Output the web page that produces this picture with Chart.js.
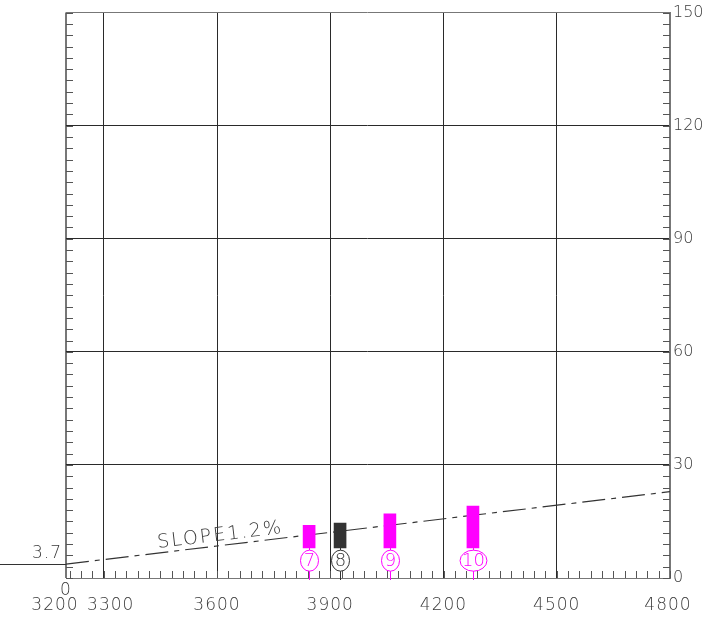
<!DOCTYPE html>
<html><head><meta charset="utf-8">
<script src="https://cdn.jsdelivr.net/npm/chart.js@4.4.0/dist/chart.umd.min.js"></script>
<style>html,body{margin:0;padding:0;background:#fff;overflow:hidden}#wrap{width:714px;height:620px;position:relative}</style>
</head><body><div id="wrap"><canvas id="c"></canvas></div>
<script>
// ---- data ----
const xTickValues = [3200, 3300, 3600, 3900, 4200, 4500, 4800];
const xTickLabels = ['3200', '3300', '3600', '3900', '4200', '4500', '4800'];
const yTickValues = [0, 30, 60, 90, 120, 150];
const pierNames = ['7', '8', '9', '10'];
const pierStations = [3844, 3926, 4058, 4278];
const pierBottoms = [8.0, 8.0, 8.0, 8.0];
const pierTops = [14.0, 14.6, 17.0, 19.1];
const pierColors = ['#ff00ff', '#333333', '#ff00ff', '#ff00ff'];
const markerLevel = 4.6;
const slopeStations = [3200, 4800];
const slopeLevels = [3.7, 22.9];
const slopeLabel = 'SLOPE1.2%';
const startLevelLabel = '3.7';
const startStationLabel = '0';
const xMinorStep = 30, xMinorOrigin = 3300;
const yMinorStep = 3;

const FONT = '"DejaVu Sans", sans-serif';
const TEXT = '#3a3a3a';

const overlay = {
  id: 'overlay',
  beforeDatasetsDraw(chart) {
    const {ctx, chartArea: a, scales: {x, y}} = chart;
    ctx.save();
    ctx.strokeStyle = '#555';
    ctx.lineWidth = 1;
    for (let v = y.min; v <= y.max + 1e-9; v += yMinorStep) {
      const py = Math.round(y.getPixelForValue(v)) + 0.5;
      ctx.beginPath();
      ctx.moveTo(a.left, py); ctx.lineTo(a.left + 7, py);
      ctx.moveTo(a.right - 7, py); ctx.lineTo(a.right, py);
      ctx.stroke();
    }
    let start = xMinorOrigin;
    while (start - xMinorStep >= x.min) start -= xMinorStep;
    for (let v = start; v <= x.max + 1e-9; v += xMinorStep) {
      const px = Math.round(x.getPixelForValue(v)) + 0.5;
      ctx.beginPath();
      ctx.moveTo(px, a.bottom); ctx.lineTo(px, a.bottom - 7);
      ctx.stroke();
    }
    ctx.restore();
  },
  afterDatasetsDraw(chart) {
    const {ctx, chartArea: a, scales: {x, y}} = chart;
    ctx.save();
    const gy = Math.round(y.getPixelForValue(slopeLevels[0])) + 0.5;
    ctx.strokeStyle = '#333'; ctx.lineWidth = 1;
    ctx.beginPath(); ctx.moveTo(0, gy); ctx.lineTo(a.left, gy); ctx.stroke();
    ctx.fillStyle = TEXT;
    ctx.font = '200 17px ' + FONT;
    try { ctx.letterSpacing = '1px'; } catch (e) {}
    ctx.textAlign = 'center'; ctx.textBaseline = 'middle';
    ctx.fillText(startLevelLabel, a.left - 19, gy - 11);
    ctx.fillText(startStationLabel, x.getPixelForValue(xTickValues[0]), a.bottom + 13);
    const nudge = [-11, 7, 0, 0, 0, 0, -2];
    xTickValues.forEach((v, i) => {
      ctx.fillText(xTickLabels[i], x.getPixelForValue(v) + nudge[i], a.bottom + 28);
    });
    const x0 = x.getPixelForValue(slopeStations[0]), y0 = y.getPixelForValue(slopeLevels[0]);
    const x1 = x.getPixelForValue(slopeStations[1]), y1 = y.getPixelForValue(slopeLevels[1]);
    const ang = Math.atan2(y1 - y0, x1 - x0);
    const tx = 158, ty = y0 + (tx - x0) * Math.tan(ang) - 5;
    ctx.translate(tx, ty);
    ctx.rotate(ang);
    ctx.textAlign = 'left'; ctx.textBaseline = 'alphabetic';
    ctx.font = '200 19px ' + FONT;
    try { ctx.letterSpacing = '2px'; } catch (e) {}
    ctx.fillText(slopeLabel, 0, 0);
    ctx.restore();

    ctx.save();
    const cy = y.getPixelForValue(markerLevel);
    const ry = 10.5;
    ctx.font = '200 18px ' + FONT;
    ctx.textAlign = 'center'; ctx.textBaseline = 'middle';
    pierStations.forEach((s, i) => {
      const px = Math.round(x.getPixelForValue(s)) + 0.5;
      const pb = y.getPixelForValue(pierBottoms[i]);
      const tw = ctx.measureText(pierNames[i]).width;
      const rx = Math.max(9, tw / 2 + 2);
      ctx.strokeStyle = pierColors[i]; ctx.fillStyle = pierColors[i];
      ctx.lineWidth = 1;
      ctx.beginPath();
      ctx.moveTo(px, pb); ctx.lineTo(px, cy - ry);
      ctx.moveTo(px, cy + ry); ctx.lineTo(px, a.bottom + 2);
      ctx.stroke();
      ctx.beginPath();
      ctx.ellipse(px, cy, rx, ry, 0, 0, Math.PI * 2);
      ctx.stroke();
      ctx.fillText(pierNames[i], px, cy + 1);
    });
    ctx.restore();
  }
};

new Chart(document.getElementById('c'), {
  type: 'bar',
  data: {
    datasets: [
      {
        type: 'bar',
        data: pierStations.map((s, i) => ({x: s, y: [pierBottoms[i], pierTops[i]]})),
        backgroundColor: pierColors,
        borderWidth: 0,
        barThickness: 12,
        order: 1
      },
      {
        type: 'line',
        data: slopeStations.map((s, i) => ({x: s, y: slopeLevels[i]})),
        borderColor: '#333',
        borderWidth: 1.2,
        borderDash: [23, 6, 5, 6],
        pointRadius: 0,
        fill: false,
        order: 2
      }
    ]
  },
  plugins: [overlay],
  options: {
    responsive: true,
    maintainAspectRatio: false,
    animation: false,
    events: [],
    layout: {padding: {left: 66, top: 12, right: 0, bottom: 0}},
    plugins: {legend: {display: false}, tooltip: {enabled: false}},
    scales: {
      x: {
        type: 'linear', min: 3200, max: 4800, offset: false,
        afterBuildTicks: (s) => { s.ticks = xTickValues.map(v => ({value: v})); },
        afterFit: (s) => { s.height = 42; },
        grid: {
          offset: false, drawTicks: false,
          color: (c) => (c.tick && (c.tick.value === 3200 || c.tick.value === 4800)) ? '#777' : '#2a2a2a',
          lineWidth: (c) => (c.tick && (c.tick.value === 3200 || c.tick.value === 4800)) ? 2 : 1
        },
        border: {display: true, color: '#777', width: 1},
        ticks: {display: false}
      },
      y: {
        type: 'linear', position: 'right', min: 0, max: 150,
        afterBuildTicks: (s) => { s.ticks = yTickValues.map(v => ({value: v})); },
        afterFit: (s) => { s.width = 44; },
        grid: {
          drawTicks: false,
          color: (c) => (c.tick && (c.tick.value === 0 || c.tick.value === 150)) ? '#777' : '#2a2a2a',
          lineWidth: 1
        },
        border: {display: true, color: '#777', width: 2},
        ticks: {padding: 3, color: TEXT, font: {family: FONT, size: 16, weight: 200}}
      }
    }
  }
});
</script>
</body></html>
